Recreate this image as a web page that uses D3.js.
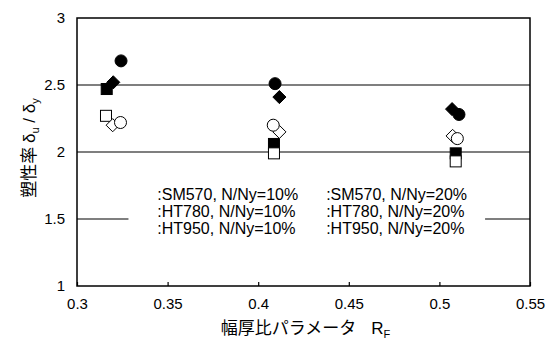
<!DOCTYPE html>
<html>
<head>
<meta charset="utf-8">
<script src="https://cdn.jsdelivr.net/npm/d3@7"></script>
<style>
  body { margin: 0; background: #fff; }
  svg text { font-family: 'Liberation Sans', Arial, sans-serif; fill: #000; }
  .jp { font-family: 'Noto Sans CJK JP', sans-serif; }
</style>
</head>
<body>
<div id="chart"></div>
<script>
// R_F value of each specimen group and ductility ratio
const sm570_10 = [[0.3164, 2.47], [0.4087, 2.06], [0.5090, 1.99]];
const ht780_10 = [[0.3200, 2.52], [0.4117, 2.41], [0.5070, 2.32]];
const ht950_10 = [[0.3243, 2.68], [0.4093, 2.51], [0.5108, 2.28]];
const sm570_20 = [[0.3160, 2.27], [0.4087, 1.99], [0.5090, 1.93]];
const ht780_20 = [[0.3197, 2.20], [0.4117, 2.15], [0.5073, 2.12]];
const ht950_20 = [[0.3240, 2.22], [0.4083, 2.20], [0.5099, 2.10]];

const xTicks = [0.3, 0.35, 0.4, 0.45, 0.5, 0.55];
const yTicks = [1, 1.5, 2, 2.5, 3];
const legendLabels = [
  ':SM570, N/Ny=10%', ':HT780, N/Ny=10%', ':HT950, N/Ny=10%',
  ':SM570, N/Ny=20%', ':HT780, N/Ny=20%', ':HT950, N/Ny=20%'
];

const series = [
  { data: sm570_10, shape: 'square', filled: true },
  { data: ht780_10, shape: 'diamond', filled: true },
  { data: ht950_10, shape: 'circle', filled: true },
  { data: sm570_20, shape: 'square', filled: false },
  { data: ht780_20, shape: 'diamond', filled: false },
  { data: ht950_20, shape: 'circle', filled: false }
];

const width = 554, height = 343;
const margin = { top: 18, right: 24, bottom: 57, left: 77 };
const w = width - margin.left - margin.right;
const h = height - margin.top - margin.bottom;

const svg = d3.select('#chart').append('svg')
  .attr('width', width).attr('height', height);
const g = svg.append('g').attr('transform', 'translate(' + margin.left + ',' + margin.top + ')');

const x = d3.scaleLinear().domain([0.3, 0.55]).range([0, w]);
const y = d3.scaleLinear().domain([1, 3]).range([h, 0]);

// grid lines
g.selectAll('.grid').data(yTicks.filter(d => d > 1 && d < 3)).enter()
  .append('line')
  .attr('x1', 0).attr('x2', w)
  .attr('y1', d => y(d)).attr('y2', d => y(d))
  .attr('stroke', '#000').attr('stroke-width', 1.2);

// x axis ticks (inward)
const xAxis = g.append('g').attr('transform', 'translate(0,' + h + ')')
  .call(d3.axisBottom(x).tickValues(xTicks).tickSize(-4).tickPadding(12).tickFormat(d3.format('')));
xAxis.select('.domain').remove();
xAxis.selectAll('text').style('font-size', '15px');
xAxis.selectAll('line').attr('stroke-width', 1.2);

const yAxis = g.append('g')
  .call(d3.axisLeft(y).tickValues(yTicks).tickSize(0).tickPadding(12).tickFormat(d3.format('')));
yAxis.select('.domain').remove();
yAxis.selectAll('text').style('font-size', '15px');

// frame
g.append('rect').attr('x', 0).attr('y', 0).attr('width', w).attr('height', h)
  .attr('fill', 'none').attr('stroke', '#000').attr('stroke-width', 1.5);

// legend box (white, hides grid)
const lg = g.append('g');
const lgTop = y(1.72);
lg.append('rect')
  .attr('x', x(0.3284)).attr('y', lgTop)
  .attr('width', x(0.5252) - x(0.3284)).attr('height', y(1.2) - lgTop)
  .attr('fill', '#fff');
legendLabels.forEach((t, i) => {
  const col = Math.floor(i / 3), row = i % 3;
  lg.append('text')
    .attr('x', col === 0 ? x(0.3443) : x(0.4375))
    .attr('y', lgTop + 10 + row * 17)
    .style('font-size', '16px')
    .text(t);
});

// markers
const size = 11;
series.forEach(s => {
  const sel = g.selectAll(null).data(s.data).enter();
  const fill = s.filled ? '#000' : '#fff';
  if (s.shape === 'circle') {
    sel.append('circle')
      .attr('cx', d => x(d[0])).attr('cy', d => y(d[1])).attr('r', 6)
      .attr('fill', fill).attr('stroke', '#000').attr('stroke-width', 1);
  } else if (s.shape === 'square') {
    sel.append('rect')
      .attr('x', d => x(d[0]) - size / 2).attr('y', d => y(d[1]) - size / 2)
      .attr('width', size).attr('height', size)
      .attr('fill', fill).attr('stroke', '#000').attr('stroke-width', 1);
  } else {
    sel.append('path')
      .attr('d', d3.symbol().type(d3.symbolDiamond2).size(110))
      .attr('transform', d => 'translate(' + x(d[0]) + ',' + y(d[1]) + ')')
      .attr('fill', fill).attr('stroke', '#000').attr('stroke-width', 1);
  }
});

// axis titles
const yl = svg.append('text')
  .attr('transform', 'translate(35,' + (margin.top + h / 2 - 4) + ') rotate(-90)')
  .attr('text-anchor', 'middle')
  .style('font-size', '17px');
yl.append('tspan').attr('class', 'jp').text('塑性率 ');
yl.append('tspan').text(' δ');
yl.append('tspan').attr('dy', 4).style('font-size', '11px').text('u');
yl.append('tspan').attr('dy', -4).text(' / δ');
yl.append('tspan').attr('dy', 4).style('font-size', '11px').text('y');

const xl = svg.append('text')
  .attr('x', margin.left + w / 2 + 2).attr('y', 334)
  .attr('text-anchor', 'middle')
  .style('font-size', '17px');
xl.append('tspan').attr('class', 'jp').text('幅厚比パラメータ');
xl.append('tspan').attr('dx', 15).text('R');
xl.append('tspan').attr('dy', 4).style('font-size', '11px').text('F');
</script>
</body>
</html>
